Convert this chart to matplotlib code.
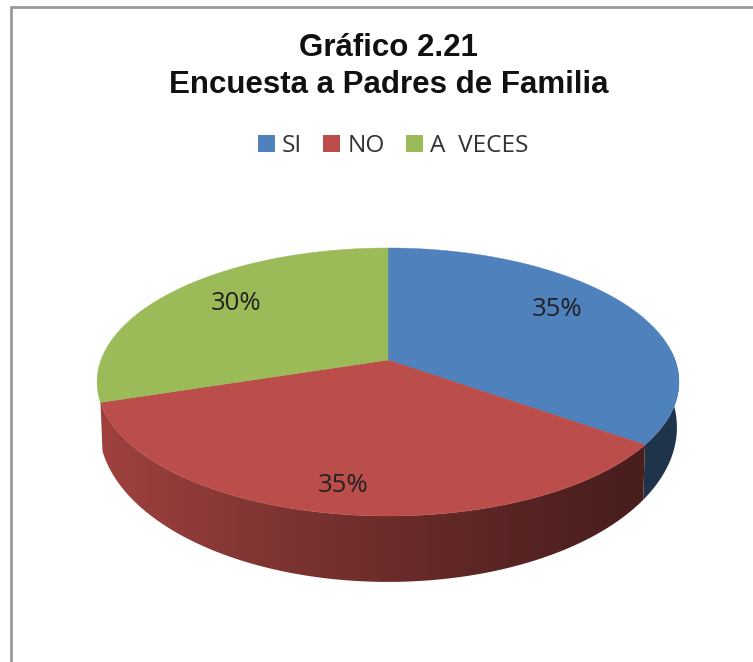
import numpy as np
import matplotlib.pyplot as plt
from matplotlib.colors import to_rgb
from matplotlib.patches import Polygon, Patch

categorias = ['SI', 'NO', 'A  VECES']
valores = [35, 35, 30]
colores = ['#4f81bd', '#bb4d4a', '#9bbb59']
etiquetas_xy = [(557, 309), (343, 485), (236, 304)]

# parametros de la perspectiva, en pixeles de la imagen
CX = 388
K = 0.164
SUP = dict(y0=360, a=130.4, b=287)
INF = dict(y0=402, a=150.4, b=285)


def proyectar(ang, p):
    # ang medido desde arriba en sentido horario
    u, v = np.sin(ang), np.cos(ang)
    w = 1 + K * v
    return CX + p['b'] * u / w, p['y0'] - p['a'] * v / w


def sombra(u):
    # la pared se oscurece de izquierda a derecha
    return np.interp(u, [-1, -0.3, 0.3, 0.8, 1], [0.85, 0.65, 0.5, 0.4, 0.4])


fig = plt.figure(figsize=(7.53, 6.62), dpi=100)
ax = fig.add_axes([0, 0, 1, 1])
ax.axis('off')

# marco: no tiene lado derecho ni inferior
ax.plot([11, 11, 753], [662, 6.5, 6.5], color='#9a9a9a', linewidth=2, solid_joinstyle='miter')

bordes = np.cumsum([0] + valores) / sum(valores) * 2 * np.pi

# pared lateral, solo la parte de delante (la verde no se ve en el original)
for i, col in enumerate(colores[:2]):
    angs = np.linspace(bordes[i], bordes[i + 1], 300)
    angs = angs[np.cos(angs) < 0.35]
    xs, ys = proyectar(angs, SUP)
    xi, yi = proyectar(angs, INF)
    contorno = list(zip(xs, ys)) + list(zip(xi[::-1], yi[::-1]))
    pared = Polygon(contorno, closed=True, facecolor='none', edgecolor='none')
    ax.add_patch(pared)

    x_grad = np.linspace(90, 690, 600)
    grad = np.outer(sombra((x_grad - CX) / 287), np.array(to_rgb(col)))[np.newaxis, :, :]
    im = ax.imshow(grad, extent=(90, 690, 600, 350), aspect='auto', interpolation='bilinear')
    im.set_clip_path(pared)

# tapa superior
for i, col in enumerate(colores):
    angs = np.linspace(bordes[i], bordes[i + 1], 200)
    xs, ys = proyectar(angs, SUP)
    puntos = [(CX, SUP['y0'])] + list(zip(xs, ys))
    ax.add_patch(Polygon(puntos, closed=True, facecolor=col, edgecolor=col, linewidth=0.3))

for v, (x, y) in zip(valores, etiquetas_xy):
    ax.text(x, y, f'{v}%', ha='center', va='center', fontsize=18.5, family='Open Sans', color='#222222')

ax.text(388.5, 66.5, 'Gráfico 2.21\nEncuesta a Padres de Familia', ha='center', va='center',
        fontsize=22.5, fontweight='bold', family='Liberation Sans', color='#111111', linespacing=1.29)

handles = [Patch(facecolor=c, edgecolor='none') for c in colores]
ax.legend(handles, categorias, loc='center', bbox_to_anchor=(393, 146), bbox_transform=ax.transData,
          ncols=3, frameon=False, handlelength=0.7, handleheight=0.7, handletextpad=0.3,
          columnspacing=0.85, labelcolor='#333333',
          prop={'family': 'Open Sans', 'size': 17.6})

ax.set_xlim(0, 753)
ax.set_ylim(662, 0)

fig.savefig('out.png', dpi=100, facecolor='white')
